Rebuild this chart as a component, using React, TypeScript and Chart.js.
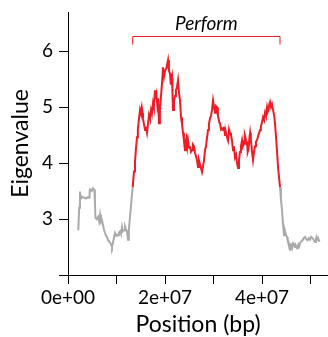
import React, { useEffect, useRef } from "react";
import { Chart, registerables } from "chart.js";

Chart.register(...registerables);

// Position in megabases, eigenvalue
const positionsMb = [
  2.12, 2.3, 2.47, 2.6, 2.89, 3.3, 3.71, 4.1, 4.33, 4.45,
  4.54, 4.9, 5.15, 5.46, 5.55, 5.67, 5.9, 6.19, 6.4, 6.6,
  6.8, 7.0, 7.22, 7.45, 7.63, 7.85, 8.04, 8.25, 8.45, 8.65,
  8.87, 9.07, 9.25, 9.38, 9.55, 9.69, 9.9, 10.1, 10.31, 10.5,
  10.72, 10.9, 11.13, 11.3, 11.55, 11.75, 11.95, 12.16, 12.37, 12.55,
  12.78, 13.05, 13.34, 13.5, 13.61, 13.81, 14.0, 14.23, 14.4, 14.64,
  14.85, 15.0, 15.2, 15.35, 15.46, 15.65, 15.88, 16.05, 16.29, 16.5,
  16.7, 16.9, 17.11, 17.3, 17.53, 17.7, 17.94, 18.1, 18.25, 18.4,
  18.56, 18.76, 18.95, 19.18, 19.4, 19.59, 19.8, 20.0, 20.3, 20.62,
  20.8, 21.03, 21.2, 21.44, 21.55, 21.65, 21.85, 22.06, 22.25, 22.47,
  22.68, 22.9, 23.09, 23.3, 23.5, 23.71, 23.9, 24.12, 24.3, 24.43,
  24.6, 24.74, 24.95, 25.15, 25.35, 25.57, 25.75, 25.98, 26.19, 26.4,
  26.6, 26.8, 27.0, 27.22, 27.45, 27.63, 27.85, 28.04, 28.25, 28.45,
  28.66, 28.87, 29.05, 29.28, 29.5, 29.69, 29.9, 30.1, 30.31, 30.5,
  30.72, 30.9, 31.03, 31.2, 31.34, 31.55, 31.75, 31.96, 32.15, 32.37,
  32.55, 32.78, 33.0, 33.2, 33.4, 33.6, 33.81, 34.02, 34.2, 34.43,
  34.65, 34.85, 35.05, 35.25, 35.46, 35.65, 35.88, 36.05, 36.29, 36.45,
  36.6, 36.75, 36.91, 37.05, 37.22, 37.4, 37.53, 37.7, 37.84, 38.0,
  38.14, 38.35, 38.56, 38.75, 38.97, 39.25, 39.59, 39.75, 39.9, 40.05,
  40.21, 40.4, 40.62, 40.8, 41.03, 41.2, 41.34, 41.5, 41.65, 41.85,
  42.06, 42.27, 42.5, 42.68, 42.89, 43.1, 43.3, 43.5, 43.71, 43.9,
  44.12, 44.33, 44.54, 44.7, 44.85, 45.0, 45.15, 45.3, 45.46, 45.6,
  45.77, 45.9, 46.08, 46.25, 46.39, 46.6, 46.8, 47.0, 47.22, 47.4,
  47.53, 47.7, 47.84, 48.1, 48.35, 48.6, 48.87, 49.1, 49.38, 49.65,
  49.9, 50.15, 50.41, 50.7, 50.93, 51.1, 51.24, 51.4, 51.55, 51.75,
  51.96,
];
const eigenvalues = [
  2.8, 3.2, 3.49, 3.36, 3.4, 3.38, 3.37, 3.39, 3.38, 3.5,
  3.53, 3.5, 3.55, 3.52, 3.3, 3.02, 3.0, 3.04, 2.96, 3.08,
  2.95, 2.98, 2.89, 2.8, 2.75, 2.7, 2.68, 2.62, 2.6, 2.58,
  2.55, 2.5, 2.57, 2.62, 2.7, 2.75, 2.7, 2.72, 2.71, 2.76,
  2.78, 2.74, 2.86, 2.78, 2.8, 2.87, 2.82, 2.78, 2.63, 2.8,
  3.04, 3.3, 3.57, 3.75, 3.85, 4.02, 4.25, 4.46, 4.6, 4.8,
  4.95, 4.9, 5.0, 4.9, 4.8, 4.7, 4.59, 4.65, 4.54, 4.7,
  4.86, 4.8, 4.95, 4.88, 5.07, 5.0, 5.3, 5.15, 5.22, 5.05,
  5.16, 4.71, 4.95, 5.2, 5.45, 5.71, 5.55, 5.65, 5.7, 5.84,
  5.65, 5.6, 5.4, 5.52, 5.2, 4.95, 5.1, 5.2, 5.3, 5.36,
  5.48, 5.25, 5.12, 4.82, 4.7, 4.54, 4.4, 4.23, 4.4, 4.45,
  4.3, 4.41, 4.28, 4.3, 4.2, 4.23, 4.33, 4.3, 4.18, 4.12,
  4.05, 3.93, 4.05, 3.98, 3.9, 3.84, 3.95, 4.05, 4.23, 4.3,
  4.45, 4.59, 4.7, 4.8, 4.85, 4.95, 5.12, 5.0, 4.9, 5.02,
  5.0, 4.85, 4.8, 4.72, 4.71, 4.6, 4.62, 4.59, 4.65, 4.5,
  4.55, 4.46, 4.4, 4.6, 4.54, 4.5, 4.4, 4.23, 4.3, 4.1,
  4.15, 4.0, 3.91, 4.05, 4.2, 4.3, 4.41, 4.3, 4.35, 4.5,
  4.45, 4.35, 4.36, 4.2, 4.25, 4.45, 4.54, 4.4, 4.3, 4.15,
  4.05, 4.2, 4.3, 4.38, 4.41, 4.5, 4.59, 4.65, 4.7, 4.75,
  4.82, 4.78, 4.9, 4.85, 5.0, 4.92, 4.95, 5.05, 5.09, 5.0,
  5.05, 4.95, 4.85, 4.7, 4.46, 4.2, 3.93, 3.75, 3.57, 3.35,
  3.16, 2.9, 2.71, 2.8, 2.75, 2.7, 2.68, 2.62, 2.6, 2.52,
  2.45, 2.55, 2.55, 2.5, 2.57, 2.55, 2.5, 2.52, 2.48, 2.52,
  2.55, 2.52, 2.57, 2.6, 2.62, 2.66, 2.68, 2.64, 2.62, 2.66,
  2.63, 2.68, 2.66, 2.62, 2.59, 2.63, 2.68, 2.64, 2.66, 2.61,
  2.62,
];

const regionStartMb = 13.34;
const regionEndMb = 43.71;
const regionLabel = "Perform";

const xTickValues = [0, 1e7, 2e7, 3e7, 4e7, 5e7];
const xTickLabels = ["0e+00", "", "2e+07", "", "4e+07", ""];
const yTickValues = [2, 3, 4, 5, 6];
const yTickLabels = ["", "3", "4", "5", "6"];

const RED = "#EE1C25";
const GRAY = "#AAAAAA";
const FONT = "Lato";

export default function App() {
  const ref = useRef<HTMLCanvasElement | null>(null);

  useEffect(() => {
    const canvas = ref.current;
    if (!canvas) return;
    const regionStart = regionStartMb * 1e6;
    const regionEnd = regionEndMb * 1e6;
    const points = positionsMb.map((p, i) => ({ x: p * 1e6, y: eigenvalues[i] }));

    const bracketPlugin = {
      id: "bracket",
      afterDraw(chart: any) {
        const { ctx, chartArea, scales } = chart;
        const x0 = scales.x.getPixelForValue(regionStart);
        const x1 = scales.x.getPixelForValue(regionEnd);
        const y = Math.round(chartArea.top + 24) + 0.5;
        ctx.save();
        ctx.strokeStyle = RED;
        ctx.lineWidth = 1;
        ctx.beginPath();
        ctx.moveTo(x0, y + 8);
        ctx.lineTo(x0, y);
        ctx.lineTo(x1, y);
        ctx.lineTo(x1, y + 8);
        ctx.stroke();
        ctx.fillStyle = "#000";
        ctx.font = `italic 19px ${FONT}`;
        ctx.textAlign = "center";
        ctx.textBaseline = "alphabetic";
        ctx.fillText(regionLabel, (x0 + x1) / 2, chartArea.top + 18);
        ctx.restore();
      },
    };

    const chart = new Chart(canvas, {
      type: "scatter",
      data: {
        datasets: [
          {
            data: points,
            showLine: true,
            borderWidth: 2,
            pointRadius: 0,
            borderColor: GRAY,
            segment: {
              borderColor: (c: any) =>
                c.p0.parsed.x >= regionStart && c.p1.parsed.x <= regionEnd ? RED : GRAY,
            },
          },
        ],
      },
      options: {
        animation: false,
        responsive: false,
        layout: { padding: { top: 12, right: 0, left: 0, bottom: 0 } },
        plugins: { legend: { display: false }, tooltip: { enabled: false } },
        scales: {
          x: {
            type: "linear",
            min: 0,
            max: 53.6e6,
            afterFit: (s: any) => {
              s.height = 62;
              s.paddingLeft = 0;
              s.paddingRight = 0;
            },
            afterBuildTicks: (s: any) => {
              s.ticks = xTickValues.map((v) => ({ value: v }));
            },
            border: { display: true, color: "#000", width: 1 },
            grid: { drawOnChartArea: false, drawTicks: true, tickLength: 9, color: "#000" },
            ticks: {
              autoSkip: false,
              maxRotation: 0,
              padding: 2,
              color: "#000",
              font: { family: FONT, size: 19 },
              callback: (_v: any, i: number) => xTickLabels[i],
            },
            title: {
              display: true,
              text: "Position (bp)",
              color: "#000",
              font: { family: FONT, size: 23, lineHeight: 1 },
              padding: { top: 0, bottom: 1 },
            },
          },
          y: {
            type: "linear",
            min: 2,
            max: 6.7,
            afterFit: (s: any) => {
              s.width = 68;
              s.paddingTop = 0;
              s.paddingBottom = 0;
            },
            afterBuildTicks: (s: any) => {
              s.ticks = yTickValues.map((v) => ({ value: v }));
            },
            border: { display: true, color: "#000", width: 1 },
            grid: { drawOnChartArea: false, drawTicks: true, tickLength: 9, color: "#000" },
            ticks: {
              autoSkip: false,
              padding: 6,
              color: "#000",
              font: { family: FONT, size: 19 },
              callback: (_v: any, i: number) => yTickLabels[i],
            },
            title: {
              display: true,
              text: "Eigenvalue",
              color: "#000",
              font: { family: FONT, size: 23, lineHeight: 1 },
              padding: { top: 9, bottom: 0 },
            },
          },
        },
      },
      plugins: [bracketPlugin],
    });
    return () => chart.destroy();
  }, []);

  return (
    <div style={{ position: "fixed", left: 0, top: 0, width: 328, height: 337, background: "#fff" }}>
      <canvas ref={ref} width={328} height={337} style={{ width: 328, height: 337 }} />
    </div>
  );
}
